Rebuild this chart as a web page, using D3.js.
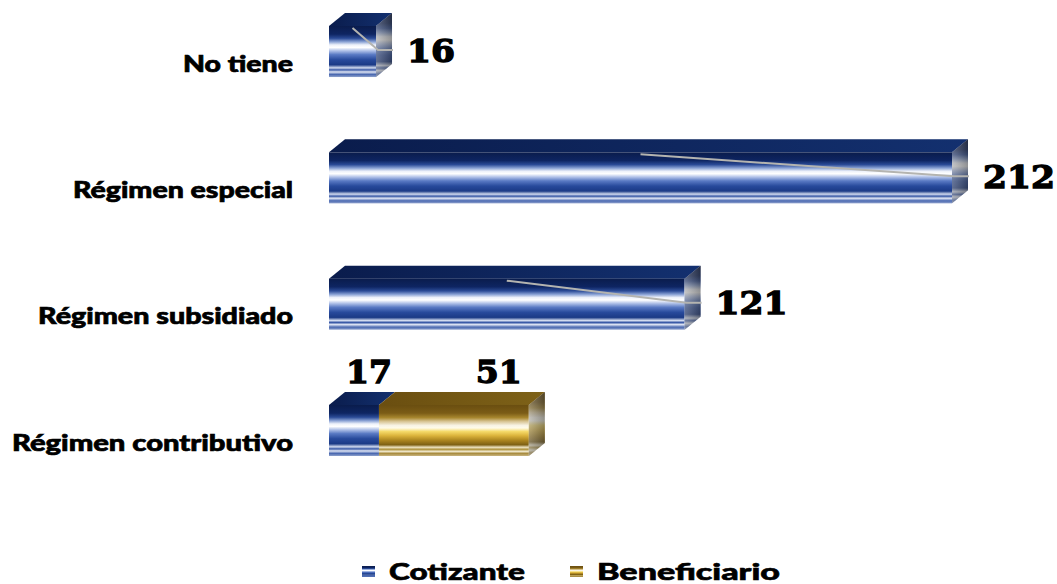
<!DOCTYPE html>
<html>
<head>
<meta charset="utf-8">
<script src="https://cdn.jsdelivr.net/npm/d3@7"></script>
<style>
  body { margin: 0; background: #fff; }
  svg { display: block; }
</style>
</head>
<body>
<svg id="chart"></svg>
<script>
const categories = ["No tiene", "Régimen especial", "Régimen subsidiado", "Régimen contributivo"];
const cotizante = [16, 212, 121, 17];
const beneficiario = [0, 0, 0, 51];
const seriesNames = ["Cotizante", "Beneficiario"];

const width = 1057;
const height = 584;
const depthX = 16;
const depthY = -13;

const svg = d3.select("#chart")
  .attr("width", width)
  .attr("height", height);

const defs = svg.append("defs");

function addGradient(id, stops, horizontal) {
  const g = defs.append("linearGradient")
    .attr("id", id)
    .attr("x1", 0).attr("y1", 0)
    .attr("x2", horizontal ? 1 : 0).attr("y2", horizontal ? 0 : 1);
  stops.forEach(s => g.append("stop").attr("offset", s[0]).attr("stop-color", s[1]));
}

// front faces
addGradient("blueFront", [
  [0, "#0a1c4c"], [0.16, "#0e2562"], [0.24, "#2a4a96"], [0.31, "#8ba3d5"],
  [0.37, "#edf1fa"], [0.42, "#ffffff"], [0.48, "#b5c5ea"], [0.56, "#5a7ac4"],
  [0.66, "#284a9c"], [0.76, "#1b3a86"], [0.82, "#d2dbef"], [0.86, "#3858a6"],
  [0.90, "#e0e6f4"], [0.95, "#4a68b0"], [1, "#8ea1cc"]
]);
addGradient("goldFront", [
  [0, "#6a4e10"], [0.16, "#7b5c16"], [0.25, "#a8872e"], [0.32, "#d6c290"],
  [0.40, "#f8f3e4"], [0.45, "#fffbe8"], [0.52, "#f5da6a"], [0.60, "#dcb43c"],
  [0.70, "#a8821e"], [0.78, "#7e6014"], [0.83, "#ece2c0"], [0.87, "#b09440"],
  [0.91, "#f0e8cc"], [0.95, "#a88c40"], [1, "#c8b480"]
]);
// top faces
addGradient("blueTop", [[0, "#0a1c4c"], [1, "#13306f"]], true);
addGradient("goldTop", [[0, "#6a4e10"], [1, "#7e6218"]], true);
// side shading overlay
addGradient("sideShade", [[0, "#9a9a9a"], [0.5, "#6b6b6b"], [1, "#3a3a3a"]], true);

const x = d3.scaleLinear()
  .domain([0, 212])
  .range([329, 952]);

const y = d3.scaleBand()
  .domain(categories)
  .range([26, 456])
  .paddingInner(0.596)
  .paddingOuter(0);

const bw = y.bandwidth();

const rows = categories.map((c, i) => ({
  cat: c,
  segs: [
    { name: seriesNames[0], v: cotizante[i], start: 0, front: "blueFront", top: "blueTop" },
    { name: seriesNames[1], v: beneficiario[i], start: cotizante[i], front: "goldFront", top: "goldTop" }
  ].filter(s => s.v > 0)
}));

function drawBox(g, x0, x1, yt, s, last) {
  // top face
  g.append("path")
    .attr("d", `M${x0},${yt} L${x0 + depthX},${yt + depthY} L${x1 + depthX},${yt + depthY} L${x1},${yt} Z`)
    .attr("fill", `url(#${s.top})`);
  // front face
  g.append("rect")
    .attr("x", x0).attr("y", yt)
    .attr("width", x1 - x0).attr("height", bw)
    .attr("fill", `url(#${s.front})`);
  if (last) {
    const side = `M${x1},${yt} L${x1 + depthX},${yt + depthY} L${x1 + depthX},${yt + depthY + bw} L${x1},${yt + bw} Z`;
    g.append("path").attr("d", side).attr("fill", `url(#${s.front})`);
    g.append("path").attr("d", side).attr("fill", "url(#sideShade)").attr("opacity", 0.55);
  }
}

const bars = svg.append("g");
rows.forEach(r => {
  const yt = y(r.cat);
  r.segs.forEach((s, j) => {
    drawBox(bars, x(s.start), x(s.start + s.v), yt, s, j === r.segs.length - 1);
  });
});

// category labels
const catWidths = { "No tiene": 110, "Régimen especial": 220, "Régimen subsidiado": 255, "Régimen contributivo": 281 };
svg.append("g")
  .selectAll("text")
  .data(categories)
  .join("text")
  .attr("x", 293)
  .attr("y", d => y(d) + bw / 2 + 12)
  .attr("dy", "0.35em")
  .attr("text-anchor", "end")
  .attr("textLength", d => catWidths[d])
  .attr("lengthAdjust", "spacingAndGlyphs")
  .style("font-family", "Lato, 'Noto Sans', sans-serif")
  .style("font-weight", 900)
  .style("font-size", "23px")
  .style("fill", "#000")
  .style("stroke", "#000")
  .style("stroke-width", 0.7)
  .text(d => d);

// value labels
const numStyle = sel => sel
  .style("font-family", "'DejaVu Serif', 'Liberation Serif', serif")
  .style("font-weight", "bold")
  .style("font-size", "32px")
  .style("fill", "#000")
  .style("stroke", "#000")
  .style("stroke-width", 1.3);

const labels = svg.append("g");
rows.forEach(r => {
  const yt = y(r.cat);
  if (r.segs.length === 1) {
    const s = r.segs[0];
    const xEnd = x(s.v) + depthX;
    const ly = yt + 24;
    labels.append("path")
      .attr("d", `M${x(s.v / 2)},${yt + 2} L${xEnd - 14},${ly} L${xEnd + 1},${ly}`)
      .attr("fill", "none")
      .attr("stroke", "#b4b4b0")
      .attr("stroke-width", 2);
    labels.append("text")
      .attr("x", xEnd + 15)
      .attr("y", ly)
      .attr("dy", "0.36em")
      .attr("textLength", String(s.v).length * 24)
      .attr("lengthAdjust", "spacingAndGlyphs")
      .call(numStyle)
      .text(s.v);
  } else {
    r.segs.forEach(s => {
      labels.append("text")
        .attr("x", x(s.start + s.v * 0.8))
        .attr("y", yt + depthY - 20)
        .attr("dy", "0.36em")
        .attr("text-anchor", "middle")
        .attr("textLength", String(s.v).length * 23)
        .attr("lengthAdjust", "spacingAndGlyphs")
        .call(numStyle)
        .text(s.v);
    });
  }
});

// legend
const legendItems = [
  { name: seriesNames[0], fill: "blueFront", x: 362, w: 136 },
  { name: seriesNames[1], fill: "goldFront", x: 570, w: 183 }
];
const legend = svg.append("g");
legendItems.forEach(it => {
  legend.append("rect")
    .attr("x", it.x).attr("y", 566)
    .attr("width", 13).attr("height", 11)
    .attr("fill", `url(#${it.fill})`);
  legend.append("text")
    .attr("x", it.x + 27)
    .attr("y", 572)
    .attr("dy", "0.36em")
    .attr("textLength", it.w)
    .attr("lengthAdjust", "spacingAndGlyphs")
    .style("font-family", "Lato, 'Noto Sans', sans-serif")
    .style("font-weight", 900)
    .style("font-size", "22px")
    .style("fill", "#000")
    .style("stroke", "#000")
    .style("stroke-width", 0.6)
    .text(it.name);
});
</script>
</body>
</html>
